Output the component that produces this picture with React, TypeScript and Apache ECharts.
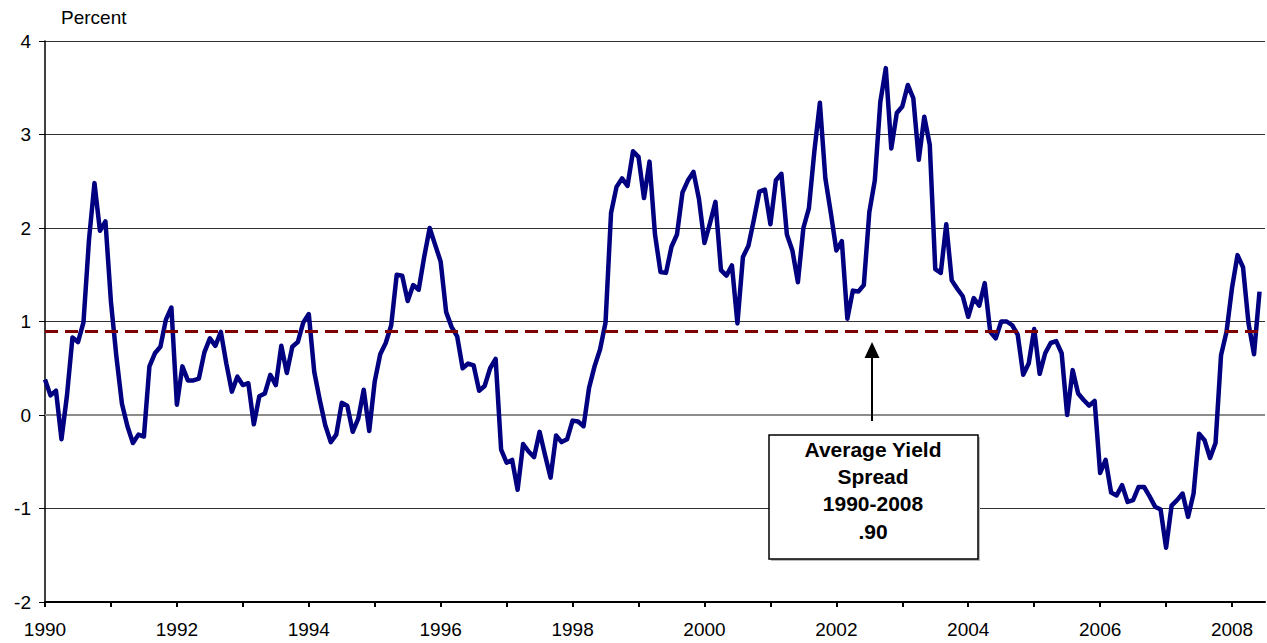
import React, { useEffect, useRef } from "react";
import * as echarts from "echarts";

const START_YEAR = 1990;
const END_YEAR = 2008.5;
const AVERAGE_SPREAD = 0.9;
const Y_MIN = -2;
const Y_MAX = 4;

// Monthly yield spread (percent), Jan 1990 onward
const spread: number[] = [
  0.38, 0.21, 0.26, -0.26, 0.21, 0.83, 0.78, 0.99, 1.87, 2.48, 1.97, 2.07,
  1.21, 0.62, 0.12, -0.12, -0.30, -0.21, -0.23, 0.52, 0.66, 0.73, 1.02, 1.15,
  0.11, 0.52, 0.37, 0.37, 0.39, 0.67, 0.82, 0.74, 0.89, 0.55, 0.25, 0.41,
  0.32, 0.34, -0.10, 0.20, 0.23, 0.43, 0.32, 0.74, 0.45, 0.73, 0.78, 0.99,
  1.08, 0.46, 0.16, -0.11, -0.29, -0.21, 0.13, 0.10, -0.18, -0.04, 0.27, -0.17,
  0.36, 0.65, 0.77, 0.96, 1.50, 1.49, 1.22, 1.39, 1.34, 1.69, 2.00, 1.82,
  1.64, 1.10, 0.94, 0.84, 0.50, 0.55, 0.53, 0.26, 0.31, 0.50, 0.60, -0.37,
  -0.51, -0.48, -0.80, -0.31, -0.39, -0.45, -0.18, -0.43, -0.67, -0.22, -0.29, -0.26,
  -0.06, -0.07, -0.12, 0.29, 0.52, 0.70, 0.99, 2.16, 2.44, 2.53, 2.45, 2.82,
  2.76, 2.32, 2.71, 1.93, 1.53, 1.52, 1.80, 1.93, 2.38, 2.51, 2.60, 2.31,
  1.84, 2.05, 2.28, 1.55, 1.49, 1.60, 0.98, 1.69, 1.81, 2.09, 2.39, 2.41,
  2.04, 2.51, 2.58, 1.93, 1.76, 1.42, 2.00, 2.21, 2.82, 3.34, 2.53, 2.16,
  1.76, 1.86, 1.03, 1.33, 1.32, 1.39, 2.17, 2.51, 3.35, 3.71, 2.85, 3.23,
  3.30, 3.53, 3.39, 2.73, 3.19, 2.89, 1.56, 1.52, 2.04, 1.44, 1.35, 1.27,
  1.05, 1.25, 1.17, 1.41, 0.89, 0.82, 1.00, 1.00, 0.96, 0.86, 0.43, 0.55,
  0.92, 0.44, 0.66, 0.77, 0.79, 0.66, 0.00, 0.48, 0.23, 0.16, 0.10, 0.15,
  -0.62, -0.48, -0.83, -0.86, -0.75, -0.93, -0.91, -0.77, -0.77, -0.87, -0.98, -1.01,
  -1.42, -0.97, -0.91, -0.84, -1.09, -0.84, -0.20, -0.27, -0.46, -0.30, 0.64, 0.89,
  1.36, 1.71, 1.58, 0.98, 0.65, 1.32,
];

const annotationLines = ["Average Yield", "Spread", "1990-2008", ".90"];

const FONT = "'Liberation Sans', Arial, Helvetica, sans-serif";

export default function App() {
  const ref = useRef<HTMLDivElement>(null);

  useEffect(() => {
    document.body.style.margin = "0";
    if (!ref.current) return;
    const chart = echarts.init(ref.current, null, { renderer: "svg" });

    const data = spread.map((v, i) => [START_YEAR + i / 12, v]);

    const option: any = {
      animation: false,
      backgroundColor: "#ffffff",
      textStyle: { fontFamily: FONT },
      grid: { left: 45, right: 2, top: 41, bottom: 41, containLabel: false },
      xAxis: {
        type: "value",
        min: START_YEAR,
        max: END_YEAR,
        interval: 1,
        axisLine: { show: true, onZero: false, lineStyle: { color: "#000", width: 2 } },
        axisTick: { show: true, inside: false, length: 5, lineStyle: { color: "#000", width: 2 } },
        splitLine: { show: false },
        axisLabel: {
          show: true,
          margin: 18,
          fontSize: 19,
          color: "#000",
          fontFamily: FONT,
          showMaxLabel: false,
          formatter: (v: number) =>
            Number.isInteger(v) && v % 2 === 0 ? String(v) : "",
        },
      },
      yAxis: {
        type: "value",
        min: Y_MIN,
        max: Y_MAX,
        interval: 1,
        axisLine: { show: true, lineStyle: { color: "#000", width: 1.5 } },
        axisTick: { show: true, inside: false, length: 6, lineStyle: { color: "#000", width: 1 } },
        splitLine: { show: true, lineStyle: { color: "#333", width: 1 } },
        axisLabel: { margin: 14, fontSize: 19, color: "#000", fontFamily: FONT },
      },
      series: [
        {
          type: "line",
          data,
          showSymbol: false,
          symbol: "none",
          lineStyle: { color: "#000080", width: 4.5, join: "round" },
          z: 5,
          markLine: {
            silent: true,
            symbol: "none",
            label: { show: false },
            data: [
              { yAxis: 0, lineStyle: { color: "#8c8c8c", width: 2, type: "solid" } },
            ],
          },
        },
        {
          type: "line",
          data: [],
          markLine: {
            silent: true,
            symbol: "none",
            label: { show: false },
            z: 6,
            data: [
              {
                yAxis: AVERAGE_SPREAD,
                lineStyle: { color: "#800000", width: 3, type: [13, 7] },
              },
            ],
          },
        },
      ],
      graphic: [
        {
          type: "text",
          left: 61,
          top: 8,
          style: { text: "Percent", fontSize: 19, fill: "#000", fontFamily: FONT },
        },
        {
          type: "line",
          shape: { x1: 872, y1: 421, x2: 872, y2: 355 },
          style: { stroke: "#000", lineWidth: 2 },
          z: 10,
        },
        {
          type: "polygon",
          shape: { points: [[872, 342], [864.5, 358], [879.5, 358]] },
          style: { fill: "#000" },
          z: 10,
        },
        {
          type: "rect",
          shape: { x: 771, y: 437, width: 209, height: 124 },
          style: { fill: "#bbb" },
          z: 9,
        },
        {
          type: "rect",
          shape: { x: 769, y: 435, width: 209, height: 124 },
          style: { fill: "#fff", stroke: "#000", lineWidth: 1.5 },
          z: 10,
        },
        {
          type: "text",
          x: 873,
          y: 435.5,
          z: 11,
          style: {
            text: annotationLines.join("\n"),
            fontSize: 21,
            fontWeight: "bold",
            fill: "#000",
            fontFamily: FONT,
            align: "center",
            verticalAlign: "top",
            lineHeight: 27.3,
          },
        },
      ],
    };

    chart.setOption(option);
    return () => chart.dispose();
  }, []);

  return <div ref={ref} style={{ width: 1267, height: 643 }} />;
}
